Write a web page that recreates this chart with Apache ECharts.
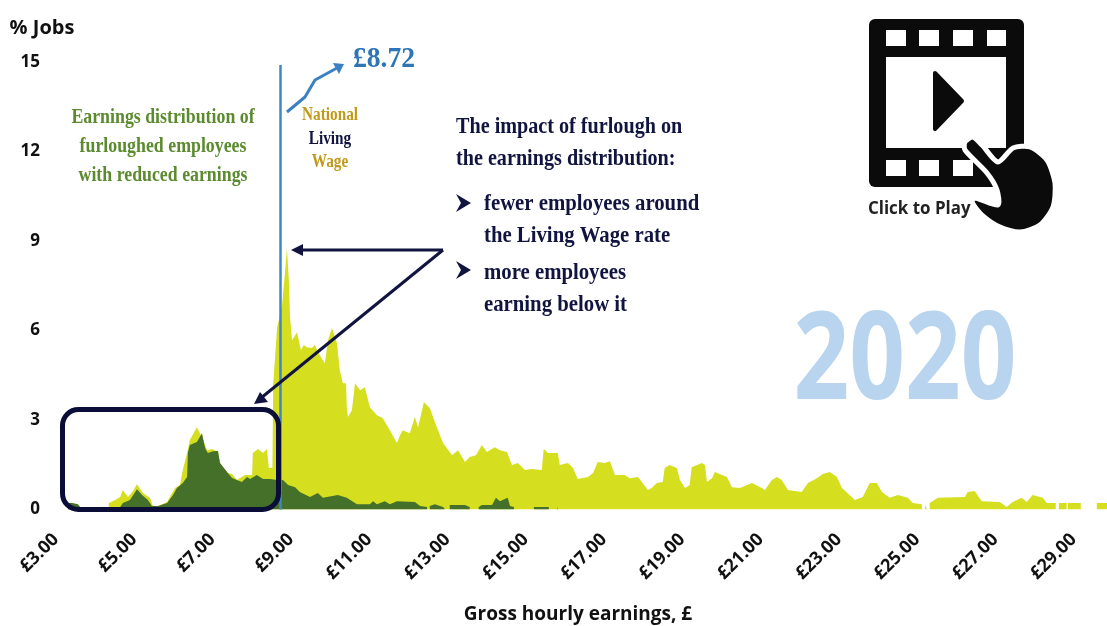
<!DOCTYPE html>
<html><head><meta charset="utf-8">
<style>html,body{margin:0;padding:0;background:#fff}#c{width:1107px;height:626px}</style>
<script src="https://cdn.jsdelivr.net/npm/echarts@6/dist/echarts.min.js"></script>
</head><body><div id="c"></div>
<script>
const xTickLabels=['£3.00','£5.00','£7.00','£9.00','£11.00','£13.00','£15.00','£17.00','£19.00','£21.00','£23.00','£25.00','£27.00','£29.00'];
const yTicks=[0,3,6,9,12,15];
const allWages=[3.13,3.23,3.38,3.46,3.47,4.16,4.17,4.33,4.46,4.53,4.66,4.79,4.89,5.04,5.22,5.30,5.43,5.66,5.86,5.99,6.06,6.17,6.24,6.42,6.50,6.58,6.68,6.81,6.96,7.01,7.21,7.32,7.44,7.65,7.83,7.85,7.98,8.11,8.21,8.26,8.35,8.37,8.47,8.59,8.67,8.72,8.77,8.80,8.85,8.93,8.98,9.00,9.08,9.15,9.23,9.36,9.43,9.56,9.69,9.77,9.87,10.00,10.07,10.15,10.23,10.25,10.28,10.38,10.46,10.59,10.71,10.84,11.02,11.17,11.35,11.53,11.61,11.68,11.86,11.99,12.07,12.22,12.37,12.55,12.71,12.94,13.09,13.27,13.39,13.55,13.70,13.83,14.03,14.16,14.34,14.47,14.62,14.80,14.98,15.23,15.28,15.39,15.51,15.64,15.69,15.90,16.03,16.15,16.41,16.54,16.66,16.84,16.97,17.10,17.35,17.48,17.69,17.94,18.04,18.17,18.32,18.37,18.50,18.68,18.76,18.89,19.01,19.06,19.32,19.40,19.45,19.58,19.65,19.96,20.09,20.29,20.60,20.85,20.93,21.11,21.24,21.36,21.52,21.87,22.03,22.26,22.41,22.59,22.77,22.90,23.23,23.43,23.61,23.79,23.92,24.12,24.33,24.58,24.71,24.94,24.96,25.02,25.07,25.08,25.14,25.35,26.04,26.11,26.29,26.47,26.93,27.11,27.26,27.49,27.62,27.77,28.03,28.13,28.36,28.37,28.44,28.64,28.65,28.67,29.00,29.01,29.41,29.67];
const allJobsPct=[.22,.22,.18,.05,null,null,.22,.32,.42,.65,.42,.62,.85,.55,.39,.12,.12,.25,.72,.82,1.32,1.89,2.33,2.76,2.56,2.33,1.99,2.03,1.93,1.56,1.22,1.19,.99,1.16,1.16,1.89,2.03,1.89,2.03,1.39,1.39,4.2,6.11,6.78,7.92,8.76,7.68,6.45,5.67,5.84,5.94,5.94,5.34,5.51,5.44,5.41,5.51,5.17,4.90,5.67,6.08,5.57,4.67,4.23,4.23,3.43,3.10,3.33,4.23,4.0,4.10,3.43,3.16,3.06,2.66,2.23,2.49,2.66,2.56,3.10,2.76,3.60,3.40,2.76,2.23,1.82,1.99,1.59,1.76,1.82,2.16,1.93,2.09,1.99,1.93,1.49,1.56,1.32,1.36,1.32,2.03,1.89,1.89,1.89,1.49,1.56,1.39,1.02,1.09,1.22,1.59,1.56,1.62,1.16,1.16,1.05,1.09,.65,.72,.89,.92,1.39,1.49,1.39,.99,.72,.82,1.42,1.56,1.49,.92,1.05,1.26,1.09,.75,.72,.89,.72,.65,.99,1.09,.99,.65,.59,.89,1.05,1.19,1.26,1.09,.72,.32,.42,.89,.89,.59,.39,.49,.39,.22,.18,null,.15,.15,null,.22,.39,.42,.59,.62,.28,.25,.08,.25,.39,.25,.49,.39,.22,.22,null,.22,.22,null,.22,.22,null,.22,.22];
const furloughWages=[3.13,3.23,3.38,3.46,3.47,4.45,4.46,4.53,4.71,4.89,5.02,5.17,5.27,5.43,5.66,5.81,5.91,6.06,6.17,6.19,6.24,6.42,6.55,6.63,6.70,6.83,6.96,7.01,7.21,7.32,7.57,7.70,7.78,7.95,8.11,8.29,8.47,8.62,8.75,8.93,9.05,9.31,9.51,9.64,10.02,10.25,10.51,10.84,10.92,11.02,11.22,11.35,11.53,11.99,12.12,12.30,12.31,12.37,12.50,12.71,12.76,12.77,12.88,13.27,13.39,13.40,13.62,13.70,13.96,14.06,14.16,14.36,14.42,14.52,14.53,15.03,15.41,15.42,15.62,15.64,15.65,15.74,15.77];
const furloughPct=[.22,.22,.18,.05,null,null,.08,.22,.32,.68,.49,.32,.12,.12,.22,.49,.72,.89,1.09,1.89,2.16,2.26,2.56,2.06,1.89,1.95,1.96,1.56,1.22,1.06,.92,1.09,1.02,1.16,1.02,1.02,.99,.99,.82,.75,.59,.42,.55,.39,.49,.39,.18,.18,.28,.18,.28,.18,.28,.25,.12,.08,null,.12,.18,.08,.08,null,.15,.15,.08,null,.08,.15,.15,.39,.28,.39,.12,.08,null,.08,.08,null,.08,.08,null,.05,.05];
const nlwLineAt=8.54, nlwLineTop=14.9;

const NAVY='#10143f',GOLD='#c09a1c',BLUE='#2e75b6',OLIVE='#5b8a2f';
const SERIF='bold 22px "Liberation Serif"';
function txt(text,x,y,font,fill,align,sx){return {type:'text',x,y,scaleX:sx||0.81,z:20,style:{text,font,fill,align:align||'center',verticalAlign:'middle'}};}
function line(points,stroke,w){return {type:'polyline',z:18,shape:{points},style:{stroke,lineWidth:w,fill:null,lineJoin:'round'}};}
function poly(points,fill,extra){return {type:'polygon',z:18,shape:Object.assign({points},extra&&extra.shape),style:Object.assign({fill},extra&&extra.style)};}
function rect(x,y,w,h,fill,r){return {type:'rect',z:16,shape:{x,y,width:w,height:h,r:r||0},style:{fill}};}
const BODY='bold 24px "Liberation Serif"';
const graphics=[
 {type:'rect',z:17,shape:{x:62.5,y:409.5,width:216,height:100,r:16},style:{fill:null,stroke:'#0a0d38',lineWidth:5}},
 line([[443,250],[298,250]],NAVY,3),poly([[291,250],[303,244],[303,256]],NAVY),
 line([[443,250],[261,398]],NAVY,3),poly([[254,404],[260,392],[268,402]],NAVY),
 line([[287,112],[305,97],[315,80],[337,68]],'#3b80c4',3),poly([[344,64],[333,63],[339,74]],'#3b80c4'),
 txt('£8.72',384,59,'bold 30px "Liberation Serif"',BLUE,'center',0.92),
 txt('National',330,115,'bold 18px "Liberation Serif"',GOLD,'center',0.85),
 txt('Living',330,139,'bold 18px "Liberation Serif"',NAVY,'center',0.85),
 txt('Wage',330,162,'bold 18px "Liberation Serif"',GOLD,'center',0.85),
 txt('Earnings distribution of',163,117,SERIF,OLIVE),
 txt('furloughed employees',163,146,SERIF,OLIVE),
 txt('with reduced earnings',163,175,SERIF,OLIVE),
 txt('The impact of furlough on',456,127,BODY,NAVY,'left',0.84),
 txt('the earnings distribution:',456,159,BODY,NAVY,'left',0.84),
 txt('fewer employees around',484,204,BODY,NAVY,'left',0.865),
 txt('the Living Wage rate',484,236,BODY,NAVY,'left',0.865),
 txt('more employees',484,273,BODY,NAVY,'left',0.865),
 txt('earning below it',484,305,BODY,NAVY,'left',0.865),
 poly([[456,194],[471,203],[456,212],[461,203]],NAVY),
 poly([[456,261],[471,270],[456,279],[461,270]],NAVY),
 txt('2020',905,364,'bold 122px "Open Sans"','#b8d4ee','center',0.8),
 rect(869,19,155,168,'#0b0b0b',6),
 rect(886,30,20,16,'#fff'),rect(919,30,20,16,'#fff'),rect(953,30,20,16,'#fff'),rect(987,30,19,16,'#fff'),
 rect(886,57,120,91,'#fff'),
 rect(886,160,20,16,'#fff'),rect(919,160,20,16,'#fff'),rect(953,160,20,16,'#fff'),rect(987,160,19,16,'#fff'),
 poly([[935,73],[962,101],[935,129]],'#0b0b0b',{style:{stroke:'#0b0b0b',lineWidth:4,lineJoin:'round'}}),
 txt('Click to Play',868,209,'bold 18px "Open Sans"','#222','left',0.94),
 poly([[965,142],[973,137],[982,145],[998,162],[1013,148],[1030,147],[1047,160],[1055,183],[1053,207],[1040,225],[1020,232],[1000,227],[982,215],[972,202],[975,198],[998,205],[997,190],[987,173],[965,150]],'#0b0b0b',{shape:{smooth:0.25},style:{stroke:'#fff',lineWidth:5}}),
];
graphics[graphics.length-1].z=19;

const pairs=(xs,ys)=>xs.map((x,i)=>[x,ys[i]]);
const chart=echarts.init(document.getElementById('c'),null,{renderer:'canvas'});
chart.setOption({
 animation:false,backgroundColor:'#fff',
 grid:{left:63,right:0,top:62,bottom:116.5,containLabel:false,outerBoundsMode:'none'},
 xAxis:{type:'value',min:3,max:29.67,interval:2,
  name:'Gross hourly earnings, £',nameLocation:'middle',nameGap:96,
  nameTextStyle:{fontFamily:'Open Sans',fontWeight:'bold',fontSize:19,color:'#111',padding:[0,14,0,0]},
  axisLine:{show:false},axisTick:{show:false},splitLine:{show:false},
  axisLabel:{rotate:45,margin:20,padding:[0,10,0,0],fontFamily:'Open Sans',fontWeight:'bold',fontSize:18,color:'#111',showMaxLabel:false,hideOverlap:false,
   formatter:v=>xTickLabels[Math.round((v-3)/2)]||''}},
 yAxis:{type:'value',min:0,max:15,interval:3,
  name:'% Jobs',nameLocation:'end',nameGap:24,nameRotate:0,
  nameTextStyle:{fontFamily:'Open Sans',fontWeight:'bold',fontSize:20,color:'#111',align:'center',padding:[0,42,0,0]},
  axisLine:{show:false},axisTick:{show:false},splitLine:{show:false},
  axisLabel:{margin:23,padding:[4,0,0,0],fontFamily:'Open Sans',fontWeight:'bold',fontSize:17,color:'#111',formatter:v=>yTicks.includes(v)?String(v):''}},
 graphic:graphics,
 series:[
  {name:'All employees',type:'line',data:pairs(allWages,allJobsPct),showSymbol:false,silent:true,z:2,
   lineStyle:{width:0},itemStyle:{color:'#d5df20'},areaStyle:{color:'#d5df20',opacity:1},
   markLine:{silent:true,symbol:'none',label:{show:false},lineStyle:{color:'#3f86c6',width:2.5,type:'solid'},
    data:[[{coord:[nlwLineAt,0]},{coord:[nlwLineAt,nlwLineTop]}]]}},
  {name:'Furloughed with reduced earnings',type:'line',data:pairs(furloughWages,furloughPct),showSymbol:false,silent:true,z:3,
   lineStyle:{width:0},itemStyle:{color:'#44702a'},areaStyle:{color:'#44702a',opacity:1}}
 ]
});
</script></body></html>
